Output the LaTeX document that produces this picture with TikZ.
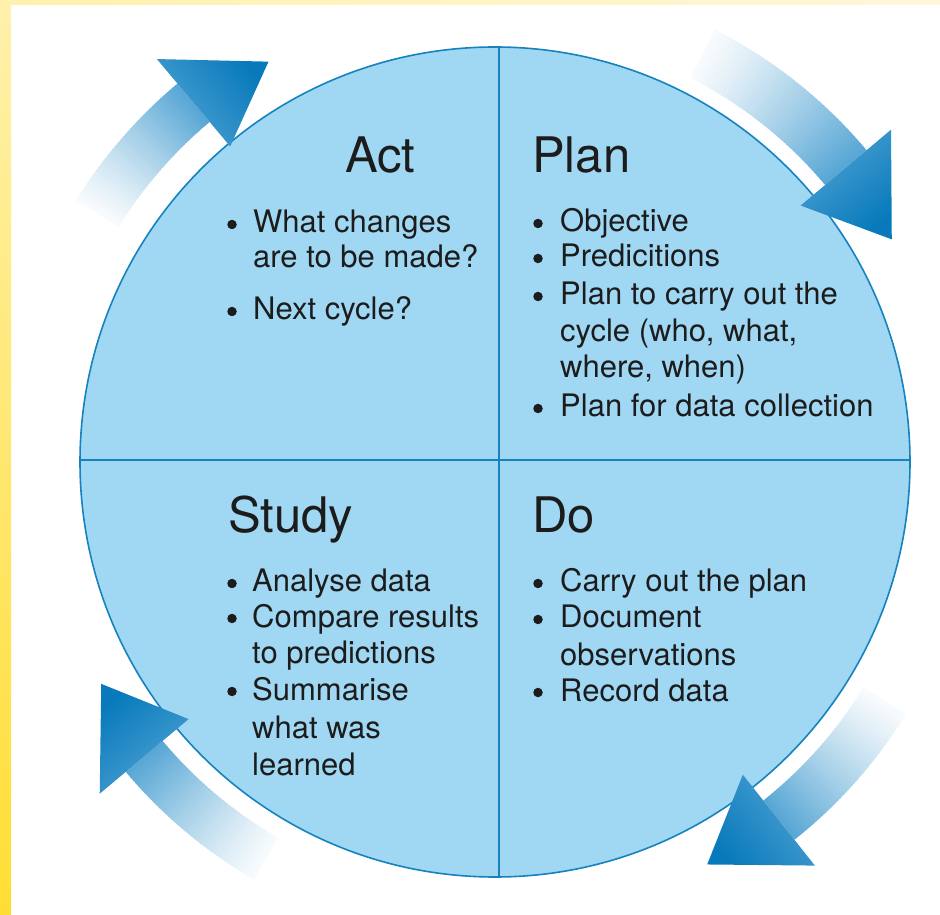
\documentclass[tikz,border=0pt]{standalone}
\usepackage{fontspec}
\setmainfont{TeX Gyre Heros}
\usetikzlibrary{calc}
\definecolor{fillblue}{RGB}{160,216,244}
\definecolor{lineblue}{RGB}{22,130,190}
\definecolor{arrdark}{RGB}{8,122,187}
\definecolor{arrmid}{RGB}{52,148,204}
\definecolor{arrlight}{RGB}{80,162,211}
\definecolor{txt}{RGB}{28,28,28}
\definecolor{yelA}{RGB}{255,241,172}
\definecolor{yelB}{RGB}{255,222,52}
\definecolor{yelC}{RGB}{255,247,218}
% #1 tail angle, #2 base angle, #3 tip angle, #4 mid radius, #5 body half width, #6 head half width, #7 tip radius
\newcommand{\cycarrow}[7]{%
  \pgfmathsetmacro{\rin}{#4-#5}%
  \pgfmathsetmacro{\rout}{#4+#5}%
  \foreach \i in {0,...,39}{%
    \pgfmathsetmacro{\aone}{#1+(#2-#1)*\i/40}%
    \pgfmathsetmacro{\atwo}{#1+(#2-#1)*min(\i+1.5,40)/40}%
    \pgfmathsetmacro{\pc}{4+78*(\i/39)^1.2}%
    \fill[arrmid!\pc!white] (\aone:\rin) arc[start angle=\aone, end angle=\atwo, radius=\rin]
      -- (\atwo:\rout) arc[start angle=\atwo, end angle=\aone, radius=\rout] -- cycle;
  }%
  \pgfmathsetmacro{\hin}{#4-#6}%
  \pgfmathsetmacro{\hout}{#4+#6}%
  \pgfmathsetmacro{\sa}{#2-180}%
  \shade[top color=arrdark, bottom color=arrlight, shading angle=\sa]
    (#2:\hin) -- (#2:\hout) -- (#3:#7) -- cycle;
}
\tikzset{
  bodytxt/.style={anchor=base west, inner sep=0pt, text=txt, font=\fontsize{31}{36}\selectfont},
  headtxt/.style={anchor=base west, inner sep=0pt, text=txt, font=\fontsize{49}{58}\selectfont},
  dot/.style={circle, fill=txt, inner sep=0pt, minimum size=9.5}
}
\begin{document}
\begin{tikzpicture}[x=1pt,y=1pt]
\fill[white] (0,0) rectangle (940,914);
\useasboundingbox (0,0) rectangle (940,914);
% yellow frame
\shade[top color=yelA, bottom color=yelB] (0,0) rectangle (11,914);
\shade[left color=yelA, right color=yelC] (0,909) rectangle (940,914);

% circle
\node[circle, draw=lineblue, fill=fillblue, line width=1.6, minimum size=830, inner sep=0pt] (cyc) at (495,452) {};
\coordinate (vtop) at (499,867);
\coordinate (vbot) at (499,37);
\coordinate (hl) at (80,454);
\coordinate (hr) at (910,454);
\draw[lineblue, line width=2.2] (vtop) -- (vbot);
\draw[lineblue, line width=2.2] (hl) -- (hr);

% arrows
\begin{scope}[shift={(495,452)}]
\cycarrow{148}{130}{119.5}{469}{25}{57}{460}
\cycarrow{63}{40}{29.3}{458}{27}{59}{455}
\cycarrow{-31.5}{-51.6}{-62.2}{457}{25}{58}{455}
\cycarrow{240}{220}{209.4}{458}{24}{58}{452}
\end{scope}

% Act
\node[headtxt] (acth) at (345,741) {Act};
\node[dot] (actd1) at (232,689.5) {};
\node[bodytxt] (act1) at (253,681) {What changes};
\node[bodytxt] (act2) at (253,646) {are to be made?};
\node[dot] (actd2) at (232,602.5) {};
\node[bodytxt] (act3) at (253,594) {Next cycle?};

% Plan
\node[headtxt] (planh) at (532,741) {Plan};
\node[dot] (pland1) at (538,690.5) {};
\node[bodytxt] (plan1) at (560,682) {Objective};
\node[dot] (pland2) at (538,655.5) {};
\node[bodytxt] (plan2) at (560,647) {Predicitions};
\node[dot] (pland3) at (538,617.5) {};
\node[bodytxt] (plan3) at (560,609) {Plan to carry out the};
\node[bodytxt] (plan4) at (560,572) {cycle (who, what,};
\node[bodytxt] (plan5) at (560,536) {where, when)};
\node[dot] (pland4) at (538,505.5) {};
\node[bodytxt] (plan6) at (560,497) {Plan for data collection};

% Study
\node[headtxt] (studyh) at (228,381) {Study};
\node[dot] (stud1) at (232,330.5) {};
\node[bodytxt] (stu1) at (252,322) {Analyse data};
\node[dot] (stud2) at (232,295.5) {};
\node[bodytxt] (stu2) at (252,287) {Compare results};
\node[bodytxt] (stu3) at (252,251) {to predictions};
\node[dot] (stud3) at (232,222.5) {};
\node[bodytxt] (stu4) at (252,214) {Summarise};
\node[bodytxt] (stu5) at (252,176) {what was};
\node[bodytxt] (stu6) at (252,139) {learned};

% Do
\node[headtxt] (doh) at (532,381) {Do};
\node[dot] (dod1) at (538,330.5) {};
\node[bodytxt] (do1) at (560,322) {Carry out the plan};
\node[dot] (dod2) at (538,294.5) {};
\node[bodytxt] (do2) at (560,286) {Document};
\node[bodytxt] (do3) at (560,249) {observations};
\node[dot] (dod3) at (538,221.5) {};
\node[bodytxt] (do4) at (560,213) {Record data};
\end{tikzpicture}
\end{document}
